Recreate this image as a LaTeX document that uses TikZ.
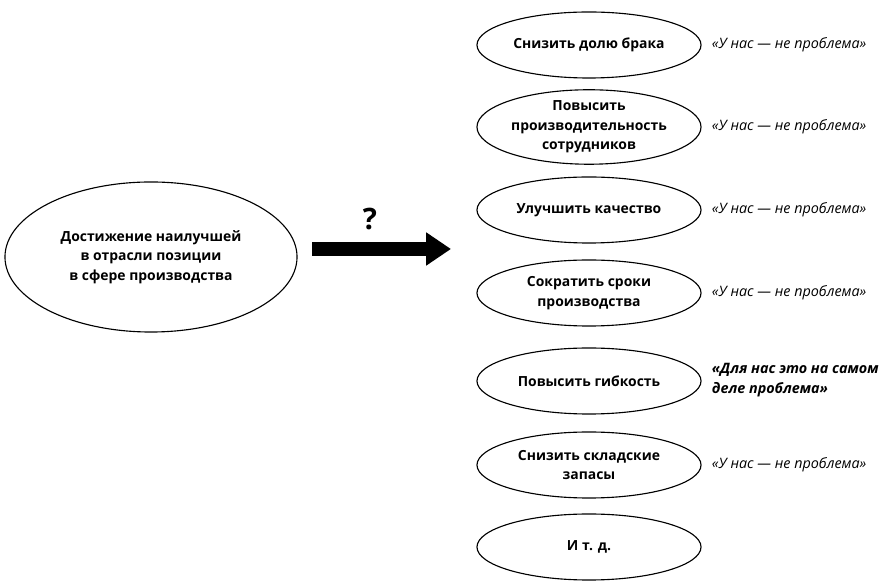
\documentclass[tikz,border=0pt]{standalone}
\usepackage{fontspec}
\setmainfont{Open Sans}
\usepackage{tikz}
\usetikzlibrary{arrows.meta,positioning,shapes.geometric}

\begin{document}
\begin{tikzpicture}[x=0.025cm,y=-0.025cm,
    aim/.style={draw,ellipse,line width=0.8pt,inner sep=0pt,minimum width=5.6cm,minimum height=1.65cm,
      align=center,font=\bfseries\fontsize{9.9}{14}\selectfont},
    reply/.style={anchor=west,align=left,font=\itshape\fontsize{10.2}{14}\selectfont}]
  \useasboundingbox (0,0) rectangle (883,582);
  % goal on the left
  \node[aim,minimum width=7.3cm,minimum height=3.75cm] (goal) at (151,257)
    {Достижение наилучшей\\в отрасли позиции\\в сфере производства};
  \coordinate (from) at (312,249);
  \coordinate (to) at (451,249);
  \draw[line width=10.6pt,-{Triangle[length=17.7pt,width=22.5pt]}] (from)--(to);
  \node[font=\bfseries\fontsize{21}{21}\selectfont] (ask) at (370,219) {?};
  % targets and answers
  \node[aim] (aim1) at (589,45)  {Снизить долю брака};
  \node[aim] (aim2) at (589,127) {Повысить\\производительность\\сотрудников};
  \node[aim] (aim3) at (589,210) {Улучшить качество};
  \node[aim] (aim4) at (589,293) {Сократить сроки\\производства};
  \node[aim] (aim5) at (589,381) {Повысить гибкость};
  \node[aim] (aim6) at (589,465) {Снизить складские\\запасы};
  \node[aim] (aim7) at (589,547) {И т. д.};
  \node[reply] (ans1) at (707,45)  {«У нас — не проблема»};
  \node[reply] (ans2) at (707,127) {«У нас — не проблема»};
  \node[reply] (ans3) at (707,210) {«У нас — не проблема»};
  \node[reply] (ans4) at (707,293) {«У нас — не проблема»};
  \node[reply,font=\bfseries\itshape\fontsize{10.2}{14}\selectfont] (ans5) at (707,380)
    {«Для нас это на самом\\деле проблема»};
  \node[reply] (ans6) at (707,465) {«У нас — не проблема»};
\end{tikzpicture}
\end{document}
